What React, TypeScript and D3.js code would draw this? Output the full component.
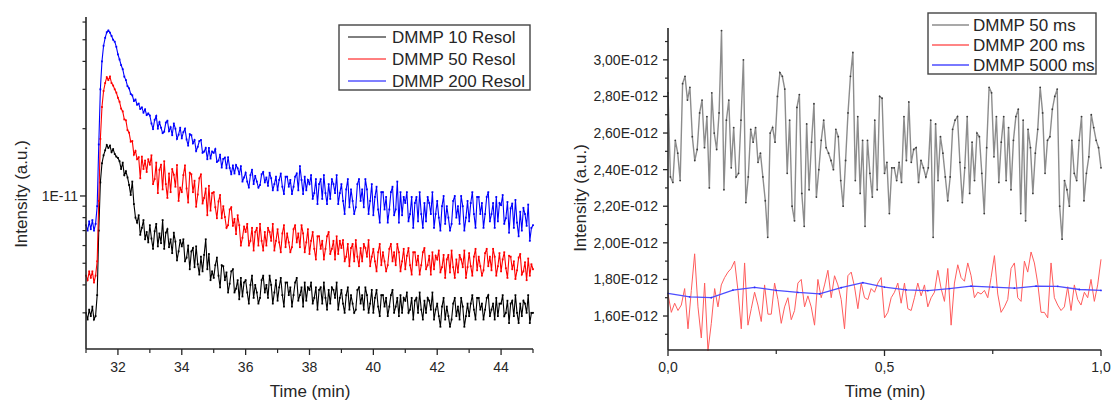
import React from 'react';
import * as d3 from 'd3';

const W = 1113;
const H = 401;
const FONT = '"Liberation Sans", Arial, Helvetica, sans-serif';

// ---------- Left chart: intensity (×1e-12) sampled every 0.05 min, 31 → 45 min ----------
const leftStart = 31;
const leftEnd = 45;
const dmmp10Resol = [
  3.0,2.8,3.1,2.9,3.2,2.8,2.9,3.6,7.0,11.5,14.0,15.2,16.0,16.9,16.4,16.8,15.7,16.2,15.4,15.0,
  14.8,14.3,13.2,14.1,12.4,12.9,12.1,11.2,10.1,11.6,9.2,8.0,7.6,8.2,6.7,7.2,7.8,6.4,6.9,6.2,
  7.4,6.45,5.8,6.95,7.5,5.95,6.8,6.15,7.8,5.8,6.85,7.1,5.9,6.4,5.55,6.85,6.25,5.15,5.65,6.35,
  5.95,6.4,5.1,5.3,6.0,4.7,5.65,5.85,4.8,5.95,4.95,4.45,5.35,4.6,5.45,6.4,4.7,5.5,4.2,4.6,
  4.3,4.9,5.3,4.4,3.9,4.9,4.85,4.2,4.55,3.7,4.05,4.6,4.7,3.7,3.85,4.2,3.45,4.3,3.55,4.1,
  4.2,3.7,3.3,4.0,4.4,3.5,4.0,3.7,3.3,3.5,4.2,4.4,3.7,4.0,3.5,4.4,4.0,3.3,3.7,4.2,
  3.4,3.9,4.3,3.6,3.2,4.1,4.1,3.6,3.9,3.2,3.6,4.1,4.3,3.4,3.6,3.9,3.2,4.1,3.4,3.9,
  3.8,4.1,3.3,3.5,3.9,3.1,3.8,3.9,3.3,4.1,3.5,3.1,3.8,3.3,3.9,3.8,3.5,4.1,3.1,3.5,
  3.8,3.3,3.0,3.6,3.9,3.1,3.6,3.3,3.0,3.1,3.8,3.9,3.3,3.6,3.1,3.9,3.6,3.0,3.3,3.8,
  3.0,3.5,3.8,3.2,2.9,3.6,3.6,3.2,3.5,2.9,3.2,3.6,3.8,3.0,3.2,3.5,2.9,3.6,3.0,3.5,
  3.4,3.7,3.0,3.1,3.5,2.8,3.4,3.5,3.0,3.7,3.1,2.8,3.4,3.0,3.5,3.4,3.1,3.7,2.8,3.1,
  3.3,2.9,2.6,3.2,3.5,2.8,3.2,2.9,2.6,2.8,3.3,3.5,2.9,3.2,2.8,3.5,3.2,2.6,2.9,3.3,
  2.9,3.3,3.6,3.1,2.8,3.5,3.5,3.1,3.3,2.8,3.1,3.5,3.6,2.9,3.1,3.3,2.8,3.5,2.9,3.3,
  3.3,3.6,2.9,3.0,3.4,2.7,3.3,3.4,2.9,3.6,3.0,2.7,3.3,2.9,3.4,3.3,3.0,3.6,2.7,3.0,
  3.0,
];
const dmmp50Resol = [
  4.4,4.2,4.6,4.3,4.6,4.1,4.4,5.1,9.5,18.0,25.0,29.5,32.0,34.0,33.0,34.2,32.0,31.2,30.0,29.0,
  27.5,26.4,24.6,23.9,22.0,21.8,19.7,19.2,17.5,17.6,15.3,15.9,14.6,14.9,12.0,15.0,13.2,14.4,12.8,14.6,
  13.8,15.2,11.3,11.9,14.1,10.3,13.1,13.8,10.7,14.3,11.3,9.8,12.6,10.4,13.2,12.45,11.0,13.75,9.5,10.9,
  10.4,12.4,13.7,10.8,9.35,12.7,12.5,10.4,11.7,8.95,10.15,12.0,12.5,9.25,9.8,10.8,8.2,11.1,8.6,10.3,
  10.4,8.9,7.95,9.45,10.1,7.95,9.0,8.05,7.2,7.4,8.7,8.9,7.35,7.9,6.75,8.2,7.4,6.0,6.5,7.3,
  6.9,7.5,6.0,6.3,7.2,5.7,6.9,7.2,6.0,7.5,6.3,5.7,6.9,6.0,7.2,6.9,6.3,7.5,5.7,6.3,
  7.1,6.2,5.6,6.8,7.4,5.9,6.8,6.2,5.6,5.9,7.1,7.4,6.2,6.8,5.9,7.4,6.8,5.6,6.2,7.1,
  5.5,6.3,6.9,5.8,5.2,6.6,6.6,5.8,6.3,5.2,5.8,6.6,6.9,5.5,5.8,6.3,5.2,6.6,5.5,6.3,
  5.85,6.35,5.1,5.35,6.1,4.85,5.85,6.1,5.1,6.35,5.35,4.85,5.85,5.1,6.1,5.85,5.35,6.35,4.85,5.35,
  5.8,5.1,4.6,5.6,6.1,4.9,5.6,5.1,4.6,4.9,5.8,6.1,5.1,5.6,4.9,6.1,5.6,4.6,5.1,5.8,
  4.7,5.4,5.85,4.9,4.45,5.6,5.6,4.9,5.4,4.45,4.9,5.6,5.85,4.7,4.9,5.4,4.45,5.6,4.7,5.4,
  5.2,5.7,4.55,4.8,5.45,4.3,5.2,5.45,4.55,5.7,4.8,4.3,5.2,4.55,5.45,5.2,4.8,5.7,4.3,4.8,
  5.55,4.85,4.4,5.35,5.8,4.65,5.35,4.85,4.4,4.65,5.55,5.8,4.85,5.35,4.65,5.8,5.35,4.4,4.85,5.55,
  4.6,5.2,5.6,4.75,4.3,5.4,5.35,4.7,5.1,4.25,4.65,5.3,5.5,4.45,4.6,5.05,4.2,5.25,4.4,4.95,
  4.7,
];
const dmmp200Resol = [
  7.4,7.0,7.7,7.1,7.8,7.0,7.5,9.0,17.0,30.0,40.0,47.0,51.0,54.0,55.0,53.8,52.0,50.0,49.0,46.5,
  43.0,40.8,38.5,36.9,34.2,33.0,31.0,30.3,28.6,28.2,26.6,27.0,25.6,25.9,24.5,24.9,23.6,24.4,23.0,23.4,
  22.9,21.1,19.9,21.9,22.8,20.0,21.4,20.2,19.1,19.4,21.3,21.7,19.5,20.3,18.7,21.1,20.0,18.0,18.8,20.2,
  18.1,19.3,20.0,17.9,16.8,18.9,18.7,17.2,17.8,15.9,16.6,17.6,17.8,15.6,15.8,16.4,14.6,16.4,14.7,15.8,
  15.6,16.2,14.2,14.4,15.3,13.4,14.65,14.85,13.3,14.9,13.35,12.5,13.7,12.6,13.75,13.3,12.5,13.6,11.6,12.1,
  12.7,11.6,10.9,12.4,13.1,11.3,12.3,11.6,10.9,11.2,12.5,12.8,11.5,12.1,11.1,12.7,12.0,10.6,11.3,12.2,
  10.6,11.8,12.6,11.0,10.2,12.2,12.2,11.0,11.8,10.2,11.0,12.2,12.6,10.6,13.6,11.8,10.2,12.2,10.6,11.8,
  11.3,12.4,9.7,10.3,11.9,9.2,11.3,11.9,9.7,12.4,10.3,9.2,11.3,9.7,11.9,11.3,10.3,12.4,9.2,10.3,
  11.3,9.5,8.3,10.7,11.9,8.9,10.7,9.5,8.3,8.9,11.3,11.9,9.5,10.7,8.9,11.9,10.7,8.3,9.5,11.3,
  8.2,9.9,11.0,8.7,7.6,10.4,10.4,8.7,9.9,7.6,8.7,10.4,11.0,8.2,8.7,11.6,7.6,10.4,8.2,9.9,
  9.3,10.4,7.7,8.3,9.9,7.2,9.3,9.9,7.7,10.4,8.3,7.2,9.3,7.7,9.9,9.3,8.3,10.4,7.2,8.3,
  9.5,8.0,7.0,9.0,10.0,7.5,9.0,8.0,7.0,7.5,9.5,10.0,8.0,9.0,7.5,10.0,9.0,7.0,8.0,9.5,
  7.7,9.3,10.4,8.3,7.2,9.9,9.9,8.3,9.3,7.2,8.3,9.9,10.4,7.7,8.3,9.3,7.2,9.9,7.7,9.3,
  9.1,10.1,7.5,7.95,9.4,6.85,8.8,9.25,7.2,9.6,7.6,6.6,8.5,7.0,8.85,8.3,7.35,9.15,6.3,7.2,
  7.4,
];
const leftSeriesNames = ['DMMP 10 Resol', 'DMMP 50 Resol', 'DMMP 200 Resol'];
const leftColors = ['#000000', '#ff0000', '#0000ff'];
const leftXMajor = [32, 34, 36, 38, 40, 42, 44];
const leftXMinor = [31, 33, 35, 37, 39, 41, 43, 45];
const leftYMajor = [1e-11];
const leftYMinor = [3e-12, 4e-12, 5e-12, 6e-12, 7e-12, 8e-12, 9e-12, 2e-11, 3e-11, 4e-11, 5e-11, 6e-11];

// ---------- Right chart: intensity (×1e-12) over 0 → 1 min ----------
const dmmp50ms = [
  2.82,2.36,2.33,2.56,2.49,2.34,2.87,2.91,2.78,2.85,2.58,2.45,2.51,2.71,2.78,2.52,2.69,2.30,2.82,2.60,
  2.51,2.71,3.16,2.29,2.67,2.78,2.41,2.63,2.36,2.38,2.67,3.00,2.22,2.36,2.62,2.55,2.63,2.44,2.49,2.36,
  2.23,2.03,2.60,2.63,2.55,2.80,2.93,2.91,2.84,2.38,2.67,2.20,2.12,2.74,2.81,2.27,2.09,2.65,2.29,2.55,
  2.76,2.25,2.40,2.56,2.67,2.52,2.49,2.45,2.40,2.62,2.58,2.34,2.20,2.45,2.71,2.91,3.04,2.34,2.69,2.27,
  2.56,2.09,2.56,2.38,2.25,2.67,2.29,2.80,2.79,2.38,2.44,2.16,2.41,2.41,2.34,2.44,2.33,2.69,2.45,2.77,
  2.44,2.51,2.52,2.33,2.45,2.41,2.36,2.41,2.67,2.03,2.65,2.34,2.58,2.49,2.36,2.23,2.36,2.62,2.67,2.69,
  2.44,2.22,2.41,2.69,2.27,2.55,2.34,2.60,2.58,2.38,2.16,2.52,2.85,2.82,2.47,2.69,2.33,2.55,2.69,2.34,
  2.63,2.29,2.56,2.69,2.73,2.16,2.67,2.12,2.62,2.52,2.27,2.49,2.62,2.85,2.71,2.38,2.56,2.58,2.73,2.80,
  2.84,2.20,2.02,2.34,2.29,2.20,2.56,2.38,2.34,2.56,2.69,2.23,2.38,2.47,2.70,2.63,2.56,2.52,2.41,
];
const dmmp200ms = [
  1.72,1.62,1.67,1.63,1.66,1.75,1.53,1.74,1.94,1.65,1.48,1.78,1.41,1.56,1.75,1.65,1.77,1.81,1.84,1.86,
  1.90,1.74,1.53,1.89,1.55,1.64,1.73,1.66,1.57,1.77,1.61,1.61,1.78,1.69,1.56,1.65,1.70,1.58,1.63,1.78,
  1.80,1.65,1.71,1.65,1.55,1.80,1.70,1.77,1.85,1.70,1.82,1.77,1.69,1.53,1.82,1.84,1.76,1.64,1.78,1.70,
  1.69,1.75,1.73,1.78,1.81,1.59,1.62,1.70,1.73,1.78,1.67,1.78,1.64,1.63,1.70,1.78,1.71,1.77,1.65,1.70,
  1.73,1.85,1.75,1.68,1.86,1.55,1.78,1.88,1.81,1.79,1.89,1.82,1.70,1.73,1.72,1.74,1.70,1.81,1.93,1.72,
  1.62,1.65,1.69,1.86,1.89,1.70,1.68,1.90,1.84,1.95,1.89,1.78,1.62,1.62,1.59,1.89,1.70,1.66,1.63,1.65,
  1.76,1.63,1.77,1.69,1.66,1.73,1.70,1.80,1.68,1.77,1.91,
];
const dmmp5000ms = [
  1.724,1.705,1.700,1.742,1.757,1.740,1.729,1.721,1.755,1.782,1.758,1.743,1.739,1.750,1.763,1.758,
  1.752,1.763,1.762,1.745,1.740,
];
const rightSeriesNames = ['DMMP 50 ms', 'DMMP 200 ms', 'DMMP 5000 ms'];
const rightColors = ['#8c8c8c', '#ff5c5c', '#4d4dff'];
const rightXMajor = [0, 0.5, 1];
const rightXMinor = [0.25, 0.75];
const rightYMajor = [1.6, 1.8, 2.0, 2.2, 2.4, 2.6, 2.8, 3.0];
const rightYMinor = [1.5, 1.7, 1.9, 2.1, 2.3, 2.5, 2.7, 2.9, 3.1];

const AXIS = '#262626';
const TEXT = '#262626';

function evenTimes(n: number, a: number, b: number) {
  return d3.range(n).map((i) => a + ((b - a) * i) / (n - 1));
}

function LeftChart() {
  const x = d3.scaleLinear().domain([leftStart, leftEnd]).range([86, 533]);
  const y = d3.scaleLog().domain([2.067e-12, 6.32e-11]).range([349, 17]);
  const series = [dmmp10Resol, dmmp50Resol, dmmp200Resol];
  const line = d3
    .line<[number, number]>()
    .x((d) => x(d[0]))
    .y((d) => y(d[1]));
  return (
    <g>
      {series.map((s, k) => {
        const t = evenTimes(s.length, leftStart, leftEnd);
        const pts: [number, number][] = s.map((v, i) => [t[i], v * 1e-12]);
        return (
          <g key={k}>
            <path d={line(pts) || ''} fill="none" stroke={leftColors[k]} strokeWidth={1.1} />
            {pts.map((p, i) => (
              <rect key={i} x={x(p[0]) - 0.9} y={y(p[1]) - 0.9} width={1.8} height={1.8} fill={leftColors[k]} />
            ))}
          </g>
        );
      })}
      {/* axes */}
      <line x1={86} x2={86} y1={17} y2={349} stroke={AXIS} strokeWidth={1.6} />
      <line x1={86} x2={533} y1={349} y2={349} stroke={AXIS} strokeWidth={1.6} />
      {leftXMajor.map((v) => (
        <g key={'xm' + v}>
          <line x1={x(v)} x2={x(v)} y1={349} y2={355} stroke={AXIS} strokeWidth={1.3} />
          <text x={x(v)} y={372} textAnchor="middle" fontSize={14} fill={TEXT}>{v}</text>
        </g>
      ))}
      {leftXMinor.map((v) => (
        <line key={'xn' + v} x1={x(v)} x2={x(v)} y1={349} y2={353} stroke={AXIS} strokeWidth={1.2} />
      ))}
      {leftYMajor.map((v) => (
        <g key={'ym' + v}>
          <line x1={80} x2={86} y1={y(v)} y2={y(v)} stroke={AXIS} strokeWidth={1.3} />
          <text x={78} y={y(v) + 5} textAnchor="end" fontSize={14} fill={TEXT}>1E-11</text>
        </g>
      ))}
      {leftYMinor.map((v) => (
        <line key={'yn' + v} x1={82.5} x2={86} y1={y(v)} y2={y(v)} stroke={AXIS} strokeWidth={1.2} />
      ))}
      <text x={310} y={397} textAnchor="middle" fontSize={17} fill={TEXT}>Time (min)</text>
      <text transform="translate(27,194) rotate(-90)" textAnchor="middle" fontSize={17} fill={TEXT}>
        Intensity (a.u.)
      </text>
      {/* legend */}
      <rect x={339} y={25} width={191} height={65} fill="#fff" stroke="#444" strokeWidth={1.4} />
      {leftSeriesNames.map((n, i) => (
        <g key={n}>
          <line x1={348} x2={386} y1={37 + i * 22} y2={37 + i * 22} stroke={leftColors[i]} strokeWidth={1} />
          <text x={392} y={43 + i * 22} fontSize={17} fill={TEXT}>{n}</text>
        </g>
      ))}
    </g>
  );
}

function RightChart() {
  const x = d3.scaleLinear().domain([0, 1]).range([668, 1101]);
  const y = d3.scaleLinear().domain([1.417e-12, 3.174e-12]).range([349.5, 28]);
  const series = [dmmp50ms, dmmp200ms, dmmp5000ms];
  const widths = [1.4, 1, 1.3];
  const line = d3
    .line<[number, number]>()
    .x((d) => x(d[0]))
    .y((d) => y(d[1]));
  const fmt = (v: number) => `${v.toFixed(2).replace('.', ',')}E-012`;
  return (
    <g>
      {series.map((s, k) => {
        const t = evenTimes(s.length, 0, 1);
        const pts: [number, number][] = s.map((v, i) => [t[i], v * 1e-12]);
        return (
          <g key={k}>
            <path d={line(pts) || ''} fill="none" stroke={rightColors[k]} strokeWidth={widths[k]} />
            {k !== 1 &&
              pts.map((p, i) => (
                <circle key={i} cx={x(p[0])} cy={y(p[1])} r={0.9} fill={k === 0 ? '#3a3a3a' : '#2a2aff'} />
              ))}
          </g>
        );
      })}
      <line x1={668} x2={668} y1={28} y2={350} stroke={AXIS} strokeWidth={1.6} />
      <line x1={668} x2={1101} y1={350} y2={350} stroke={AXIS} strokeWidth={1.6} />
      {rightXMajor.map((v) => (
        <g key={'xm' + v}>
          <line x1={x(v)} x2={x(v)} y1={350} y2={356} stroke={AXIS} strokeWidth={1.3} />
          <text x={x(v)} y={372} textAnchor="middle" fontSize={14} fill={TEXT}>
            {v.toFixed(1).replace('.', ',')}
          </text>
        </g>
      ))}
      {rightXMinor.map((v) => (
        <line key={'xn' + v} x1={x(v)} x2={x(v)} y1={350} y2={354} stroke={AXIS} strokeWidth={1.2} />
      ))}
      {rightYMajor.map((v) => (
        <g key={'ym' + v}>
          <line x1={663} x2={668} y1={y(v * 1e-12)} y2={y(v * 1e-12)} stroke={AXIS} strokeWidth={1.3} />
          <text x={658} y={y(v * 1e-12) + 5} textAnchor="end" fontSize={14} fill={TEXT}>{fmt(v)}</text>
        </g>
      ))}
      {rightYMinor.map((v) => (
        <line key={'yn' + v} x1={665} x2={668} y1={y(v * 1e-12)} y2={y(v * 1e-12)} stroke={AXIS} strokeWidth={1.2} />
      ))}
      <text x={885} y={397} textAnchor="middle" fontSize={17} fill={TEXT}>Time (min)</text>
      <text transform="translate(586,198) rotate(-90)" textAnchor="middle" fontSize={17} fill={TEXT}>
        Intensity (a.u.)
      </text>
      <rect x={928} y={13} width={168} height={61} fill="#fff" stroke="#444" strokeWidth={1.4} />
      {rightSeriesNames.map((n, i) => (
        <g key={n}>
          <line x1={932} x2={969} y1={25 + i * 20} y2={25 + i * 20} stroke={rightColors[i]} strokeWidth={1.4} />
          <text x={973} y={31 + i * 20} fontSize={17} fill={TEXT}>{n}</text>
        </g>
      ))}
    </g>
  );
}

export default function App() {
  return (
    <svg
      width={W}
      height={H}
      viewBox={`0 0 ${W} ${H}`}
      style={{ position: 'fixed', left: 0, top: 0, background: '#fff', fontFamily: FONT }}
    >
      <rect x={0} y={0} width={W} height={H} fill="#fff" />
      <LeftChart />
      <RightChart />
    </svg>
  );
}
